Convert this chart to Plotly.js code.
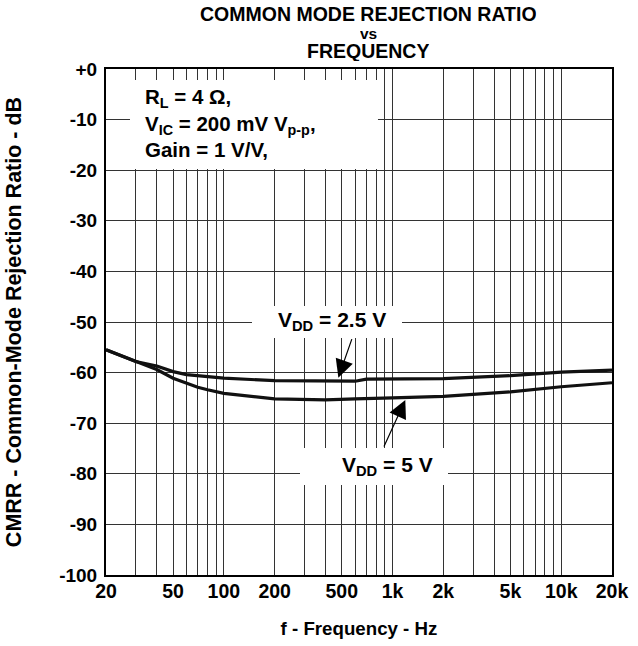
<!DOCTYPE html>
<html>
<head>
<meta charset="utf-8">
<script src="https://cdn.plot.ly/plotly-3.0.1.min.js"></script>
<style>html,body{margin:0;padding:0;background:#fff;}#chart{width:638px;height:646px;}</style>
</head>
<body>
<div id="chart"></div>
<script>
// ---- data ----
const freqHz = [20, 30, 40, 50, 60, 70, 80, 100, 200, 400, 600, 700, 1000, 2000, 5000, 10000, 20000];
const cmrrVdd25 = [-55.5, -57.8, -58.7, -59.8, -60.4, -60.6, -60.8, -61.1, -61.6, -61.7, -61.7, -61.3, -61.3, -61.2, -60.6, -59.9, -59.5];
const cmrrVdd5  = [-55.5, -57.8, -59.4, -61.1, -62.1, -62.9, -63.4, -64.1, -65.2, -65.4, -65.2, -65.1, -65.0, -64.7, -63.8, -62.8, -62.0];

const xTickVals = [20, 50, 100, 200, 500, 1000, 2000, 5000, 10000, 20000];
const xTickText = ['20', '50', '100', '200', '500', '1k', '2k', '5k', '10k', '20k'];
const xMinorGrid = [30,40,60,70,80,90,300,400,600,700,800,900,3000,4000,6000,7000,8000,9000];
const yTickVals = [0,-10,-20,-30,-40,-50,-60,-70,-80,-90,-100];
const yTickText = ['+0','-10','-20','-30','-40','-50','-60','-70','-80','-90','-100'];

const arrow25 = {f: 477, db: -61.0};
const arrow5  = {f: 1190, db: -65.4};

const FONT = 'Liberation Sans, Arial, Helvetica, sans-serif';
const bold = (size) => ({family: FONT, size: size, color: '#000', weight: 'bold'});

const traces = [
  {x: freqHz, y: cmrrVdd25, type: 'scatter', mode: 'lines', line: {color: '#111', width: 3.2}, hoverinfo: 'skip', name: 'VDD = 2.5 V'},
  {x: freqHz, y: cmrrVdd5, type: 'scatter', mode: 'lines', line: {color: '#111', width: 3.2}, hoverinfo: 'skip', name: 'VDD = 5 V'}
];

const whiteBox = (x0, x1, y0, y1) => ({type: 'rect', xref: 'paper', yref: 'paper', x0: x0, x1: x1, y0: y0, y1: y1,
  fillcolor: '#fff', line: {width: 0}, layer: 'above'});

const layout = {
  width: 638, height: 646,
  margin: {l: 106, r: 26, t: 69, b: 71},
  paper_bgcolor: '#fff', plot_bgcolor: '#fff',
  showlegend: false,
  xaxis: {
    type: 'log', range: [Math.log10(20), Math.log10(20000)],
    tickmode: 'array', tickvals: xTickVals, ticktext: xTickText,
    showgrid: true, gridcolor: '#333', gridwidth: 1,
    minor: {tickmode: 'array', tickvals: xMinorGrid, showgrid: true, gridcolor: '#333', gridwidth: 1, ticks: ''},
    showline: true, linecolor: '#000', linewidth: 2, mirror: true,
    ticks: '', tickfont: bold(19.5), ticklabelstandoff: -2,
    zeroline: false,
    title: {text: 'f - Frequency - Hz', font: bold(18.7), standoff: 21}
  },
  yaxis: {
    range: [-100, 0],
    tickmode: 'array', tickvals: yTickVals, ticktext: yTickText,
    showgrid: true, gridcolor: '#333', gridwidth: 1,
    showline: true, linecolor: '#000', linewidth: 2, mirror: true,
    ticks: '', tickfont: bold(19), ticklabelstandoff: 3,
    zeroline: false,
    title: {text: 'CMRR - Common-Mode Rejection Ratio - dB', font: bold(21.5), standoff: 32}
  },
  shapes: [
    whiteBox(0.0474, 0.5375, 0.8024, 0.9783),
    whiteBox(0.2885, 0.5850, 0.4684, 0.5316),
    whiteBox(0.3834, 0.6759, 0.1779, 0.2510)
  ],
  annotations: [
    {xref: 'paper', yref: 'paper', x: 0.5178, y: 1.1087, text: 'COMMON MODE REJECTION RATIO', showarrow: false, font: bold(19.5), xanchor: 'center', yanchor: 'middle', height: 20},
    {xref: 'paper', yref: 'paper', x: 0.5178, y: 1.0721, text: 'vs', showarrow: false, font: bold(15.5), xanchor: 'center', yanchor: 'middle', height: 14},
    {xref: 'paper', yref: 'paper', x: 0.5178, y: 1.0365, text: 'FREQUENCY', showarrow: false, font: bold(19.5), xanchor: 'center', yanchor: 'middle', height: 20},
    {xref: 'paper', yref: 'paper', x: 0.0731, y: 0.8933, xanchor: 'left', yanchor: 'middle', align: 'left', showarrow: false,
     text: 'R<sub>L</sub> = 4 Ω,<br>V<sub>IC</sub> = 200 mV V<sub>p-p</sub>,<br>Gain = 1 V/V,', font: bold(20.5)},
    {xref: 'paper', yref: 'paper', x: 0.4466, y: 0.502, xanchor: 'center', yanchor: 'middle', showarrow: false,
     text: 'V<sub>DD</sub> = 2.5 V', font: bold(21)},
    {xref: 'paper', yref: 'paper', x: 0.557, y: 0.2154, xanchor: 'center', yanchor: 'middle', showarrow: false,
     text: 'V<sub>DD</sub> = 5 V', font: bold(21)},
    {xref: 'x', yref: 'y', x: Math.log10(arrow25.f), y: arrow25.db, text: '', showarrow: true,
     arrowhead: 2, arrowsize: 3, arrowwidth: 1.2, arrowcolor: '#000', ax: 14, ay: -40, standoff: 0},
    {xref: 'x', yref: 'y', x: Math.log10(arrow5.f), y: arrow5.db, text: '', showarrow: true,
     arrowhead: 2, arrowsize: 3, arrowwidth: 1.2, arrowcolor: '#000', ax: -22, ay: 48, standoff: 0}
  ]
};

Plotly.newPlot('chart', traces, layout, {staticPlot: true, displayModeBar: false});
</script>
</body>
</html>
